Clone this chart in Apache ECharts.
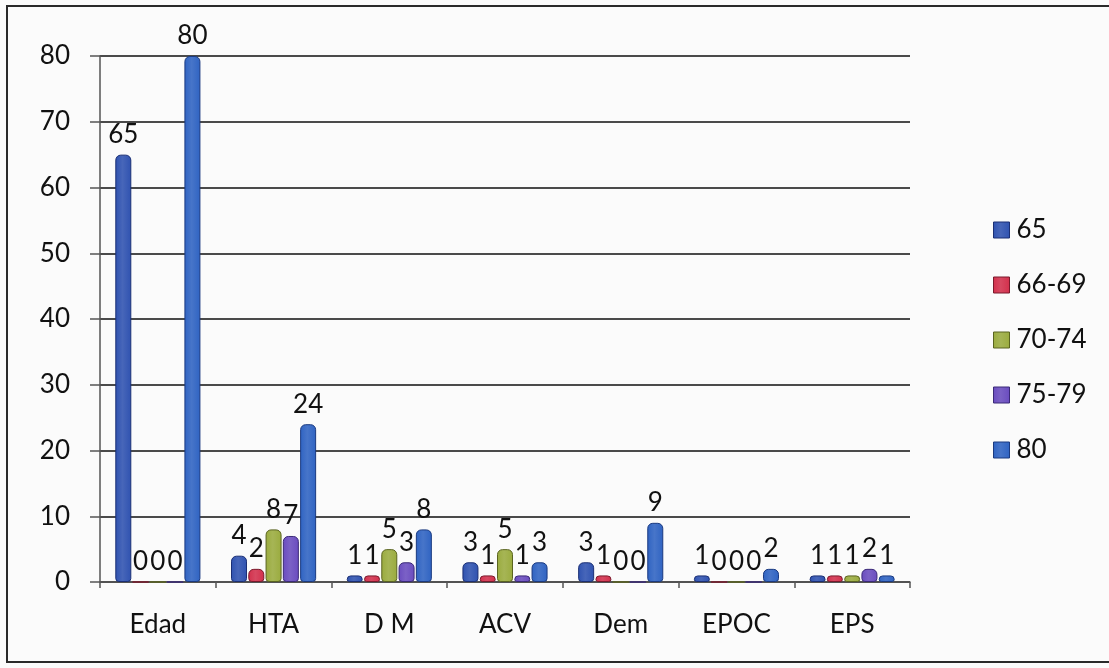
<!DOCTYPE html>
<html>
<head>
<meta charset="utf-8">
<script src="https://cdn.jsdelivr.net/npm/echarts@6/dist/echarts.min.js"></script>
<style>
  html, body { margin: 0; padding: 0; background: #fbfbfb; }
  #chart { width: 1109px; height: 668px; }
</style>
</head>
<body>
<div id="chart"></div>
<script>
// Categories and age-group series
const categories = ['Edad', 'HTA', 'D M', 'ACV', 'Dem', 'EPOC', 'EPS'];
const seriesNames = ['65', '66-69', '70-74', '75-79', '80'];
const s65   = [65, 4, 1, 3, 3, 1, 1];
const s6669 = [0, 2, 1, 1, 1, 0, 1];
const s7074 = [0, 8, 5, 5, 0, 0, 1];
const s7579 = [0, 7, 3, 1, 0, 0, 2];
const s80   = [80, 24, 8, 3, 9, 2, 1];
const yTicks = [0, 10, 20, 30, 40, 50, 60, 70, 80];

const values = [s65, s6669, s7074, s7579, s80];
const colors = ['#2f52b0', '#d2304c', '#9aab3e', '#6a4cbf', '#2f63c2'];
const borders = ['#1b2f74', '#7a1a2c', '#5a6420', '#3b2a78', '#1b3a80'];
const font = 'Lato, "Open Sans", sans-serif';

const chart = echarts.init(document.getElementById('chart'));

const series = seriesNames.map((name, i) => ({
  name: name,
  type: 'bar',
  data: values[i],
  barWidth: 16,
  barGap: '8%',
  itemStyle: {
    color: new echarts.graphic.LinearGradient(0, 0, 1, 0, [
      { offset: 0, color: colors[i] },
      { offset: 0.45, color: echarts.color.lift(colors[i], 0.12) },
      { offset: 1, color: colors[i] }
    ]),
    borderColor: borders[i],
    borderWidth: 1,
    borderRadius: [5, 5, 3, 3]
  },
  label: {
    show: true,
    position: 'top',
    distance: 7,
    fontFamily: font,
    fontSize: 26,
    color: '#111'
  }
}));

chart.setOption({
  backgroundColor: '#fbfbfb',
  animation: false,
  color: colors,
  graphic: [{
    type: 'rect',
    shape: { x: 7, y: 6, width: 1120, height: 656 },
    style: { fill: 'none', stroke: '#2a2a2a', lineWidth: 2 },
    silent: true
  }],
  grid: { left: 100, right: 199, top: 56, bottom: 86 },
  legend: {
    orient: 'vertical',
    left: 988,
    top: 212,
    itemWidth: 16,
    itemHeight: 16,
    itemGap: 29,
    icon: 'rect',
    textStyle: { fontFamily: font, fontSize: 26, color: '#111', padding: [0, 0, 0, 2] },
    data: seriesNames.map((n, i) => ({
      name: n,
      itemStyle: { borderColor: borders[i], borderWidth: 1 }
    }))
  },
  xAxis: {
    type: 'category',
    data: categories,
    axisLine: { show: true, lineStyle: { color: '#555', width: 1.5 } },
    axisTick: { show: true, alignWithLabel: false, length: 6, lineStyle: { color: '#555', width: 1.5 } },
    axisLabel: { fontFamily: font, fontSize: 26, color: '#111', margin: 30 }
  },
  yAxis: {
    type: 'value',
    min: yTicks[0],
    max: yTicks[yTicks.length - 1],
    interval: yTicks[1] - yTicks[0],
    axisLine: { show: true, lineStyle: { color: '#555', width: 1.5 } },
    axisTick: { show: true, length: 10, lineStyle: { color: '#555', width: 1.5 } },
    axisLabel: { fontFamily: font, fontSize: 26, color: '#111', margin: 30 },
    splitLine: { show: true, lineStyle: { color: '#4a4a4a', width: 2 } }
  },
  series: series
});
</script>
</body>
</html>
